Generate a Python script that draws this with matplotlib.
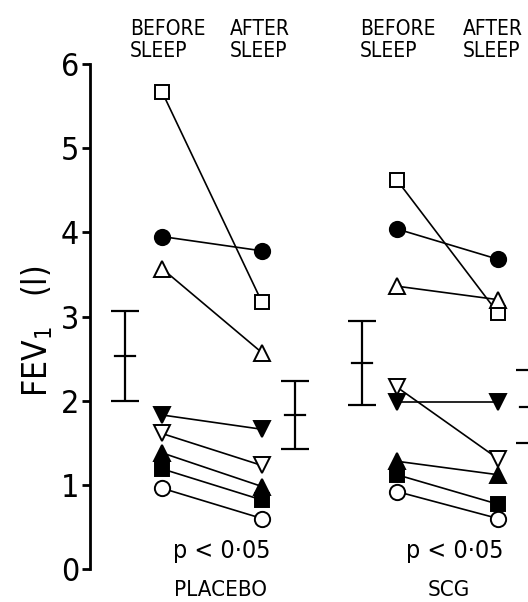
import matplotlib
matplotlib.use("Agg")
import matplotlib.pyplot as plt

# FEV1 (l) of eight subjects before and after sleep, placebo and SCG nights
# marker per subject: (marker, filled)
subject_markers = [('s', False), ('o', True), ('^', False), ('v', True),
                   ('v', False), ('^', True), ('s', True), ('o', False)]

placebo_before = [5.67, 3.95, 3.57, 1.83, 1.61, 1.38, 1.19, 0.96]
placebo_after = [3.17, 3.78, 2.57, 1.66, 1.23, 0.98, 0.82, 0.60]
scg_before = [4.62, 4.04, 3.36, 1.98, 2.16, 1.28, 1.12, 0.92]
scg_after = [3.04, 3.68, 3.20, 1.98, 1.31, 1.12, 0.77, 0.60]

# mean +- sem (before, after)
placebo_mean = [2.53, 1.83]
placebo_sem = [0.53, 0.40]
scg_mean = [2.45, 1.93]
scg_sem = [0.50, 0.43]

y_ticks = [0, 1, 2, 3, 4, 5, 6]
header = "BEFORE\nSLEEP"
header2 = "AFTER\nSLEEP"
p_text = "p < 0·05"
groups = ["PLACEBO", "SCG"]

W, H = 528, 602
plt.rcParams['font.family'] = ['DejaVu Sans']
plt.rcParams['font.stretch'] = 'condensed'
plt.rcParams['mathtext.default'] = 'regular'

fig = plt.figure(figsize=(W / 100, H / 100), dpi=100)
y0_px, y6_px = 569, 64
ax = fig.add_axes([90 / W, 1 - y0_px / H, (W - 90) / W, (y0_px - y6_px) / H])
ax.set_xlim(0, W - 90)
ax.set_ylim(0, 6)

# x positions in pixels from the y axis
pos = {'placebo': (72, 172, 35, 205), 'scg': (307, 408, 272, 440)}


def draw_group(before, after, mean, sem, key):
    xb, xa, eb, ea = pos[key]
    for (m, filled), b, a in zip(subject_markers, before, after):
        ax.plot([xb, xa], [b, a], color='black', lw=1.2, zorder=2)
        ms = 10.5 if m == 's' else (11 if m == 'o' else 12)
        ax.plot([xb, xa], [b, a], ls='none', marker=m, ms=ms,
                mfc='black' if filled else 'white', mec='black', mew=1.4,
                zorder=3, clip_on=False)
    ax.errorbar([eb, ea], mean, yerr=sem, fmt='none', ecolor='black',
                elinewidth=1.6, capsize=10, capthick=1.6, clip_on=False)
    for x, m in zip([eb, ea], mean):
        ax.plot([x - 10, x + 10], [m, m], color='black', lw=1.6, clip_on=False)


draw_group(placebo_before, placebo_after, placebo_mean, placebo_sem, 'placebo')
draw_group(scg_before, scg_after, scg_mean, scg_sem, 'scg')

for s in ['top', 'right', 'bottom']:
    ax.spines[s].set_visible(False)
ax.spines['left'].set_linewidth(2.0)
ax.set_xticks([])
ax.set_yticks(y_ticks)
ax.set_yticklabels([str(t) for t in y_ticks], fontsize=23)
ax.tick_params(axis='y', direction='out', length=6, width=2.0, pad=2)
ax.set_ylabel("FEV$_1$   (l)", fontsize=24)
ax.yaxis.set_label_coords(-0.08, 0.47)

# headers
for xp, txt in zip([130, 230, 360, 463], [header, header2, header, header2]):
    fig.text(xp / W, 1 - 19 / H, txt, ha='left', va='top', fontsize=15,
             linespacing=1.1)
for xp in [222, 455]:
    fig.text(xp / W, 1 - 551 / H, p_text, ha='center', va='center', fontsize=18)
for xp, g in zip([220, 449], groups):
    fig.text(xp / W, 1 - 590 / H, g, ha='center', va='center', fontsize=16)

fig.savefig("out.png", dpi=100)
